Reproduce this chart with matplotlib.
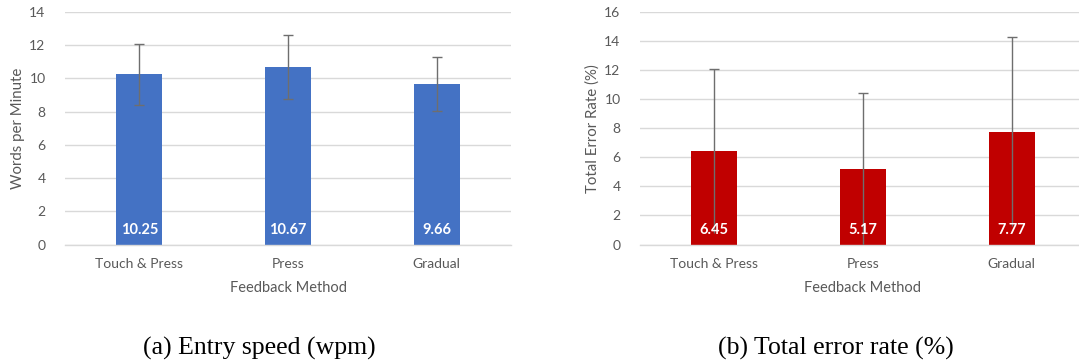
import matplotlib
matplotlib.use("Agg")
import matplotlib.pyplot as plt

# Data
methods = ["Touch & Press", "Press", "Gradual"]
wpm_mean = [10.25, 10.67, 9.66]
wpm_sd = [1.85, 1.93, 1.63]
ter_mean = [6.45, 5.17, 7.77]
ter_sd = [5.65, 5.28, 6.48]

TEXT = "#595959"
GRID = "#d9d9d9"
ERR = "#6e6e6e"

plt.rcParams["font.family"] = ["Lato", "DejaVu Sans"]

W, H = 1079, 362
fig = plt.figure(figsize=(W / 100, H / 100), dpi=100)


def panel(rect, means, sds, color, ymax, ylabel, clip_low):
    ax = fig.add_axes(rect)
    x = list(range(len(methods)))
    ax.bar(x, means, width=0.31, color=color, zorder=2)
    lower = [min(s, m) if clip_low else s for m, s in zip(means, sds)]
    _, caps, _ = ax.errorbar(x, means, yerr=[lower, sds], fmt="none",
                             ecolor=ERR, elinewidth=1.0, capsize=3.5,
                             capthick=1.0, zorder=3)
    if clip_low:
        # bars truncated at zero have no lower cap
        caps[0].set_visible(False)
    for xi, m in zip(x, means):
        ax.annotate(f"{m:.2f}", (xi, 0), xytext=(0, 10.5),
                    textcoords="offset points", ha="center", va="center",
                    color="white", fontsize=10.5, fontweight="bold", zorder=4)
    ax.set_xlim(-0.5, len(methods) - 0.5)
    ax.set_ylim(0, ymax)
    ax.set_yticks(range(0, ymax + 1, 2))
    ax.yaxis.grid(True, color=GRID, linewidth=1.0, zorder=0)
    ax.set_axisbelow(True)
    for s in ("top", "right", "left"):
        ax.spines[s].set_visible(False)
    ax.spines["bottom"].set_color(GRID)
    ax.spines["bottom"].set_linewidth(1.0)
    ax.set_xticks(x)
    ax.set_xticklabels(methods)
    ax.tick_params(axis="both", length=0, labelsize=10, labelcolor=TEXT)
    ax.tick_params(axis="y", pad=14)
    ax.tick_params(axis="x", pad=10)
    ax.set_xlabel("Feedback Method", fontsize=10.5, color=TEXT, labelpad=8)
    ax.set_ylabel(ylabel, fontsize=10.8, color=TEXT, labelpad=3)
    return ax


bottom = (H - 244.5) / H
height = 232.5 / H
panel([65 / W, bottom, 446 / W, height], wpm_mean, wpm_sd, "#4472c4", 14,
      "Words per Minute", False)
panel([640 / W, bottom, 446 / W, height], ter_mean, ter_sd, "#c00000", 16,
      "Total Error Rate (%)", True)

fig.text(259 / W, 1 - 348 / H, "(a) Entry speed (wpm)", ha="center",
         va="center", fontsize=18.5, family="Liberation Serif", color="black")
fig.text(836 / W, 1 - 348 / H, "(b) Total error rate (%)", ha="center",
         va="center", fontsize=18.5, family="Liberation Serif", color="black")

fig.savefig("out.png", dpi=100)
